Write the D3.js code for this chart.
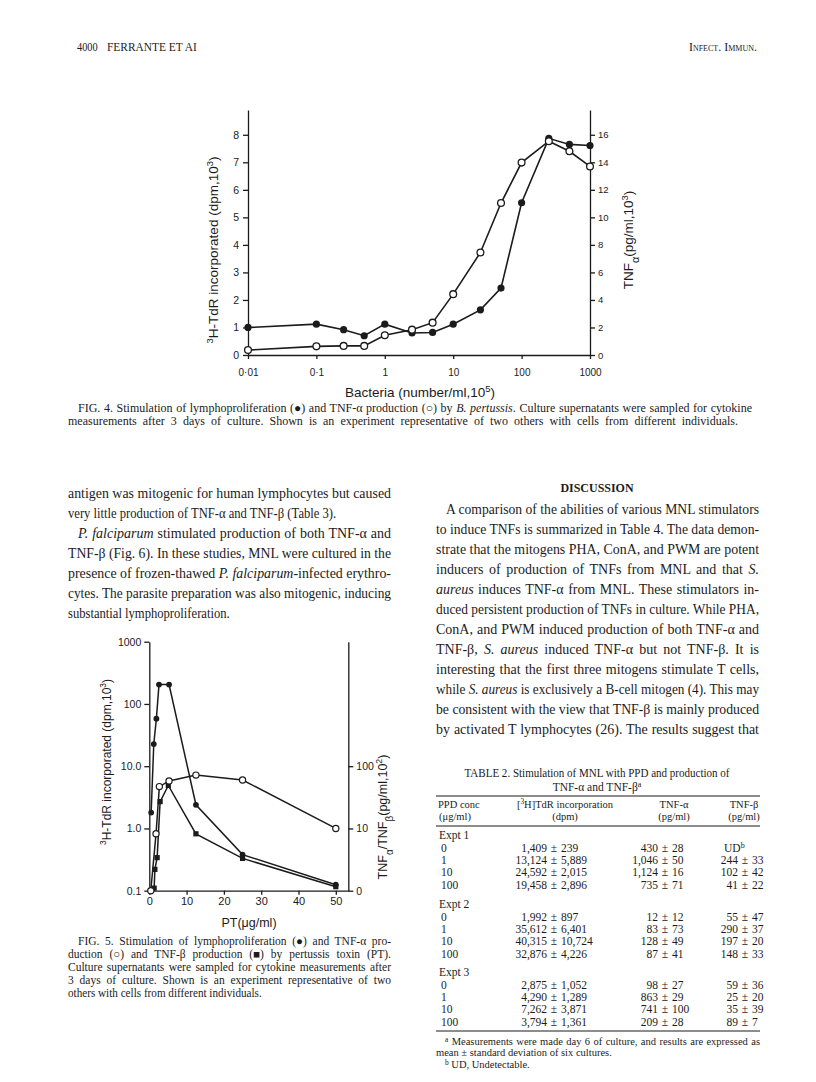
<!DOCTYPE html>
<html lang="en">
<head>
<meta charset="UTF-8">
<script src="https://d3js.org/d3.v7.min.js"></script>
<style>
  body { margin: 0; background: #ffffff; }
  svg { display: block; }
  .serif { font-family: 'Liberation Serif', 'DejaVu Serif', serif; fill: #1b1b1b; }
  .sans { font-family: 'Liberation Sans', Arial, sans-serif; fill: #1b1b1b; }
</style>
</head>
<body>
<svg id="page" width="816" height="1082"></svg>
<script>
// ---- Fig. 4 data (B. pertussis) ----
const fig4Bacteria = [0.01, 0.1, 0.25, 0.5, 1, 2.5, 5, 10, 25, 50, 100, 250, 500, 1000];
const fig4Prolif = [1.0, 1.12, 0.92, 0.7, 1.12, 0.8, 0.82, 1.12, 1.64, 2.43, 5.53, 7.87, 7.65, 7.61];
const fig4TNFa = [0.36, 0.63, 0.66, 0.66, 1.43, 1.84, 2.35, 4.42, 7.45, 11.04, 13.98, 15.53, 14.8, 13.7];
const fig4XTicks = [0.01, 0.1, 1, 10, 100, 1000];
const fig4XLabels = ["0·01", "0·1", "1", "10", "100", "1000"];
const fig4LeftTicks = [0, 1, 2, 3, 4, 5, 6, 7, 8];
const fig4RightTicks = [0, 2, 4, 6, 8, 10, 12, 14, 16];

// ---- Fig. 5 data (pertussis toxin) ----
const ptProlif = [0.5, 1.2, 1.9, 2.6, 5.3, 12.5, 25, 50];
const prolifDpm = [1.8, 22.7, 58, 205, 205, 2.4, 0.38, 0.125];
const ptTnfa = [0.4, 1.8, 2.7, 5.3, 12.5, 25, 50];
const tnfaVals = [1, 8.2, 47, 58, 72, 60, 10];
const ptTnfb = [1.3, 1.5, 2.1, 2.9, 5.1, 12.5, 25, 50];
const tnfbVals = [1.1, 2.2, 3.4, 27, 49, 8.2, 3.3, 1.16];
const fig5XTicks = [0, 10, 20, 30, 40, 50];
const fig5LeftTicks = [0.1, 1, 10, 100, 1000];
const fig5LeftLabels = ["0.1", "1.0", "10.0", "100", "1000"];
const fig5RightTicks = [1, 10, 100];
const fig5RightLabels = ["0", "10", "100"];

// ---- Table 2 ----
const tableDoses = ["0", "1", "10", "100"];
const expt1Dpm = ["1,409 ± 239", "13,124 ± 5,889", "24,592 ± 2,015", "19,458 ± 2,896"];
const expt1TnfA = ["430 ± 28", "1,046 ± 50", "1,124 ± 16", "735 ± 71"];
const expt1TnfB = ["UD", "244 ± 33", "102 ± 42", "41 ± 22"];
const expt2Dpm = ["1,992 ± 897", "35,612 ± 6,401", "40,315 ± 10,724", "32,876 ± 4,226"];
const expt2TnfA = ["12 ± 12", "83 ± 73", "128 ± 49", "87 ± 41"];
const expt2TnfB = ["55 ± 47", "290 ± 37", "197 ± 20", "148 ± 33"];
const expt3Dpm = ["2,875 ± 1,052", "4,290 ± 1,289", "7,262 ± 3,871", "3,794 ± 1,361"];
const expt3TnfA = ["98 ± 27", "863 ± 29", "741 ± 100", "209 ± 28"];
const expt3TnfB = ["59 ± 36", "25 ± 20", "35 ± 39", "89 ± 7"];

const ink = "#1b1b1b";
const svg = d3.select("#page");

// small markup: *italic*  ^sup^  _sub_
function rich(g, x, y, src, size, opts = {}) {
    const t = g.append("text")
        .attr("x", x).attr("y", y)
        .attr("font-size", size)
        .attr("class", opts.cls || "serif");
    if (opts.anchor) t.attr("text-anchor", opts.anchor);
    if (opts.weight) t.attr("font-weight", opts.weight);
    if (opts.transform) t.attr("transform", opts.transform);
    src.split(/(\*[^*]+\*|\^[^^]+\^|_[^_]+_)/).filter(s => s).forEach(s => {
        const sp = t.append("tspan");
        if (s[0] === "*") sp.attr("font-style", "italic").text(s.slice(1, -1));
        else if (s[0] === "^") sp.attr("baseline-shift", opts.supShift || "super").attr("font-size", size * 0.7).text(s.slice(1, -1));
        else if (s[0] === "_") sp.attr("baseline-shift", "sub").attr("font-size", size * 0.8).text(s.slice(1, -1));
        else sp.text(s);
    });
    const w = t.node().getComputedTextLength();
    if (opts.width) {
        // justify: widen word gaps, or squeeze if too long
        const gaps = (src.match(/ /g) || []).length;
        if (w < opts.width && gaps > 0) t.attr("word-spacing", (opts.width - w) / gaps);
        else t.attr("textLength", opts.width).attr("lengthAdjust", "spacingAndGlyphs");
    } else if (opts.squeeze) {
        t.attr("textLength", w * opts.squeeze).attr("lengthAdjust", "spacingAndGlyphs");
    }
    return t;
}

function styleAxis(g, size) {
    g.attr("font-family", "'Liberation Sans', Arial, sans-serif").attr("font-size", size);
    g.selectAll("path, line").attr("stroke", ink).attr("stroke-width", 1.3);
    g.selectAll("text").attr("fill", ink);
}

// ---------- running head ----------
rich(svg, 77, 51, "4000", 11.5, { squeeze: 0.9 });
rich(svg, 107, 51, "FERRANTE ET AI", 12, { squeeze: 0.95 });
rich(svg, 757, 51, "Infect. Immun.", 12, { anchor: "end" }).attr("font-variant", "small-caps");

// ---------- Fig. 4 ----------
const f4 = svg.append("g");
const x4 = d3.scaleLog().domain([0.01, 1000]).range([248, 590]);
const yL4 = d3.scaleLinear().domain([0, 8.9]).range([355, 110]);
const yR4 = d3.scaleLinear().domain([0, 17.8]).range([355, 110]);

f4.append("g").attr("transform", "translate(0,355)")
    .call(d3.axisBottom(x4).tickValues(fig4XTicks).tickFormat((d, i) => fig4XLabels[i])
        .tickSize(4).tickSizeOuter(0).tickPadding(10))
    .call(g => styleAxis(g, 10));
f4.append("g").attr("transform", "translate(248,0)")
    .call(d3.axisLeft(yL4).tickValues(fig4LeftTicks).tickSize(5).tickSizeOuter(0).tickPadding(4))
    .call(g => styleAxis(g, 10.5));
f4.append("g").attr("transform", "translate(590,0)")
    .call(d3.axisRight(yR4).tickValues(fig4RightTicks).tickSize(5).tickSizeOuter(0).tickPadding(3))
    .call(g => styleAxis(g, 9.5));

const fig4Filled = d3.zip(fig4Bacteria, fig4Prolif);
const fig4Open = d3.zip(fig4Bacteria, fig4TNFa);

f4.append("path").datum(fig4Open)
    .attr("d", d3.line().x(d => x4(d[0])).y(d => yR4(d[1])))
    .attr("fill", "none").attr("stroke", ink).attr("stroke-width", 1.6);
f4.append("path").datum(fig4Filled)
    .attr("d", d3.line().x(d => x4(d[0])).y(d => yL4(d[1])))
    .attr("fill", "none").attr("stroke", ink).attr("stroke-width", 1.6);

f4.selectAll(".dotF").data(fig4Filled).enter().append("circle")
    .attr("cx", d => x4(d[0])).attr("cy", d => yL4(d[1])).attr("r", 3.6)
    .attr("fill", ink);
f4.selectAll(".dotO").data(fig4Open).enter().append("circle")
    .attr("cx", d => x4(d[0])).attr("cy", d => yR4(d[1])).attr("r", 3.4)
    .attr("fill", "#fff").attr("stroke", ink).attr("stroke-width", 1.3);

rich(f4, 420, 397, "Bacteria (number/ml,10^5^)", 13.5, { cls: "sans", anchor: "middle" });
rich(f4, 0, 0, "^3^H-TdR incorporated (dpm,10^3^)", 13.5, { cls: "sans", anchor: "middle", transform: "translate(218,250) rotate(-90)" });
rich(f4, 0, 0, "TNF_α_(pg/ml,10^3^)", 13.5, { cls: "sans", anchor: "middle", transform: "translate(633,240) rotate(-90)" });

// caption 4
rich(svg, 78, 412, "FIG. 4. Stimulation of lymphoproliferation (●) and TNF-α production (○) by *B. pertussis*. Culture supernatants were sampled for cytokine", 12, { width: 674 });
rich(svg, 68, 425, "measurements after 3 days of culture. Shown is an experiment representative of two others with cells from different individuals.", 12, { width: 670 });

// ---------- body text ----------
const leftCol = [
    [68, "antigen was mitogenic for human lymphocytes but caused", 323],
    [68, "very little production of TNF-α and TNF-β (Table 3).", 0],
    [78, "*P. falciparum* stimulated production of both TNF-α and", 313],
    [68, "TNF-β (Fig. 6). In these studies, MNL were cultured in the", 323],
    [68, "presence of frozen-thawed *P. falciparum*-infected erythro-", 323],
    [68, "cytes. The parasite preparation was also mitogenic, inducing", 323],
    [68, "substantial lymphoproliferation.", 0]
];
leftCol.forEach((l, i) => rich(svg, l[0], 498 + i * 20, l[1], 14, l[2] ? { width: l[2] } : { squeeze: 0.9 }));

rich(svg, 597, 492, "DISCUSSION", 13, { anchor: "middle", weight: "bold", squeeze: 0.92 });
const rightCol = [
    [446, "A comparison of the abilities of various MNL stimulators", 313],
    [436, "to induce TNFs is summarized in Table 4. The data demon-", 323],
    [436, "strate that the mitogens PHA, ConA, and PWM are potent", 323],
    [436, "inducers of production of TNFs from MNL and that *S.*", 323],
    [436, "*aureus* induces TNF-α from MNL. These stimulators in-", 323],
    [436, "duced persistent production of TNFs in culture. While PHA,", 323],
    [436, "ConA, and PWM induced production of both TNF-α and", 323],
    [436, "TNF-β, *S. aureus* induced TNF-α but not TNF-β. It is", 323],
    [436, "interesting that the first three mitogens stimulate T cells,", 323],
    [436, "while *S. aureus* is exclusively a B-cell mitogen (4). This may", 323],
    [436, "be consistent with the view that TNF-β is mainly produced", 323],
    [436, "by activated T lymphocytes (26). The results suggest that", 323]
];
rightCol.forEach((l, i) => rich(svg, l[0], 514 + i * 20, l[1], 14, { width: l[2] }));

// ---------- Fig. 5 ----------
const f5 = svg.append("g");
const x5 = d3.scaleLinear().domain([0, 53.35]).range([149.3, 348.3]);
const yL5 = d3.scaleLog().domain([0.1, 1000]).range([890.7, 641.7]);
const yR5 = d3.scaleLog().domain([1, 10000]).range([890.7, 641.7]);

f5.append("g").attr("transform", "translate(0,890.7)")
    .call(d3.axisBottom(x5).tickValues(fig5XTicks).tickSize(4).tickSizeOuter(0).tickPadding(3))
    .call(g => styleAxis(g, 11));
f5.append("g").attr("transform", "translate(149.3,0)")
    .call(d3.axisLeft(yL5).tickValues(fig5LeftTicks).tickFormat((d, i) => fig5LeftLabels[i])
        .tickSize(5).tickSizeOuter(0).tickPadding(3))
    .call(g => styleAxis(g, 10.5));
f5.append("g").attr("transform", "translate(348.3,0)")
    .call(d3.axisRight(yR5).tickValues(fig5RightTicks).tickFormat((d, i) => fig5RightLabels[i])
        .tickSize(5).tickSizeOuter(0).tickPadding(3))
    .call(g => styleAxis(g, 10.5));

const f5Prolif = d3.zip(ptProlif, prolifDpm);
const f5TnfA = d3.zip(ptTnfa, tnfaVals);
const f5TnfB = d3.zip(ptTnfb, tnfbVals);

[[f5Prolif, yL5], [f5TnfB, yR5], [f5TnfA, yR5]].forEach(([data, ys]) => {
    f5.append("path").datum(data)
        .attr("d", d3.line().x(d => x5(d[0])).y(d => ys(d[1])))
        .attr("fill", "none").attr("stroke", ink).attr("stroke-width", 1.5);
});
f5.selectAll(".sq").data(f5TnfB).enter().append("rect")
    .attr("x", d => x5(d[0]) - 2.6).attr("y", d => yR5(d[1]) - 2.6)
    .attr("width", 5.2).attr("height", 5.2).attr("fill", ink);
f5.selectAll(".dotF").data(f5Prolif).enter().append("circle")
    .attr("cx", d => x5(d[0])).attr("cy", d => yL5(d[1])).attr("r", 2.9)
    .attr("fill", ink);
f5.selectAll(".dotO").data(f5TnfA).enter().append("circle")
    .attr("cx", d => x5(d[0])).attr("cy", d => yR5(d[1])).attr("r", 3.1)
    .attr("fill", "#fff").attr("stroke", ink).attr("stroke-width", 1.2);

rich(f5, 249, 927, "PT(μg/ml)", 12.5, { cls: "sans", anchor: "middle" });
rich(f5, 0, 0, "^3^H-TdR incorporated (dpm,10^3^)", 12, { cls: "sans", anchor: "middle", transform: "translate(111,762) rotate(-90)" });
rich(f5, 0, 0, "TNF_α_/TNF_β_(pg/ml,10^2^)", 12.5, { cls: "sans", anchor: "middle", transform: "translate(387,817) rotate(-90)" });

// caption 5
const cap5 = [
    [78, "FIG. 5. Stimulation of lymphoproliferation (●) and TNF-α pro-", 313],
    [68, "duction (○) and TNF-β production (■) by pertussis toxin (PT).", 323],
    [68, "Culture supernatants were sampled for cytokine measurements after", 323],
    [68, "3 days of culture. Shown is an experiment representative of two", 323],
    [68, "others with cells from different individuals.", 0]
];
cap5.forEach((l, i) => rich(svg, l[0], 945 + i * 13, l[1], 11.5, l[2] ? { width: l[2] } : { squeeze: 0.97 }));

// ---------- Table 2 ----------
const tb = svg.append("g");
rich(tb, 597, 777, "TABLE 2. Stimulation of MNL with PPD and production of", 11.5, { anchor: "middle", width: 265 });
rich(tb, 597, 791, "TNF-α and TNF-β^a^", 11.5, { anchor: "middle" });
[796, 826, 1031].forEach(y => tb.append("line").attr("x1", 436).attr("x2", 760)
    .attr("y1", y).attr("y2", y).attr("stroke", ink).attr("stroke-width", 1.1));

rich(tb, 438, 808, "PPD conc", 10.5);
rich(tb, 455, 820, "(μg/ml)", 10.5, { anchor: "middle" });
rich(tb, 565, 808, "[^3^H]TdR incorporation", 10.5, { anchor: "middle" });
rich(tb, 565, 820, "(dpm)", 10.5, { anchor: "middle" });
rich(tb, 674, 808, "TNF-α", 10.5, { anchor: "middle" });
rich(tb, 674, 820, "(pg/ml)", 10.5, { anchor: "middle" });
rich(tb, 744, 808, "TNF-β", 10.5, { anchor: "middle" });
rich(tb, 744, 820, "(pg/ml)", 10.5, { anchor: "middle" });

function cell(x, y, v) {
    const p = v.split(" ± ");
    if (p.length < 2) {
        rich(tb, x - 21, y, v + "^b^", 11.5);
        return;
    }
    rich(tb, x - 7, y, p[0], 11.5, { anchor: "end" });
    rich(tb, x, y, "±", 11.5, { anchor: "middle" });
    rich(tb, x + 7, y, p[1], 11.5);
}
const expts = [
    ["Expt 1", expt1Dpm, expt1TnfA, expt1TnfB, 839],
    ["Expt 2", expt2Dpm, expt2TnfA, expt2TnfB, 908],
    ["Expt 3", expt3Dpm, expt3TnfA, expt3TnfB, 976]
];
expts.forEach(([name, dpm, ta, tbv, y0]) => {
    rich(tb, 439, y0, name, 11.5);
    tableDoses.forEach((d, i) => {
        const y = y0 + 13 + i * 12.2;
        rich(tb, 441, y, d, 11.5);
        cell(554, y, dpm[i]);
        cell(665, y, ta[i]);
        cell(745, y, tbv[i]);
    });
});
rich(tb, 445, 1045, "^a^ Measurements were made day 6 of culture, and results are expressed as", 10.5, { width: 315, supShift: "3" });
rich(tb, 436, 1056, "mean ± standard deviation of six cultures.", 10.5);
rich(tb, 445, 1068, "^b^ UD, Undetectable.", 10.5, { supShift: "3" });
</script>
</body>
</html>
